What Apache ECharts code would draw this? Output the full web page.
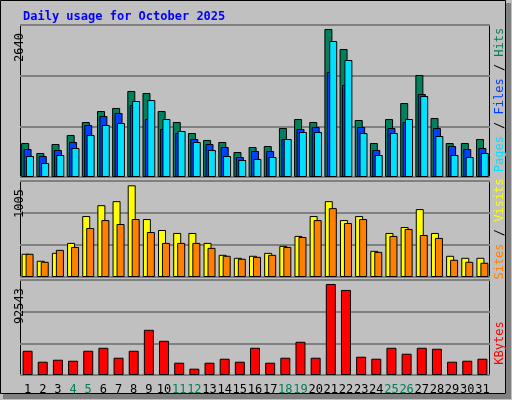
<!DOCTYPE html>
<html><head><meta charset="utf-8">
<script src="https://cdn.jsdelivr.net/npm/echarts@6/dist/echarts.min.js"></script>
<style>html,body{margin:0;padding:0;background:#c0c0c0}#c{width:512px;height:400px}</style>
</head><body><div id="c"></div>
<script>
const days = Array.from({length: 31}, (_, i) => String(i + 1));
const weekend = ['4','5','11','12','18','19','25','26'];

const hits  = [590,417,573,730,955,1146,1199,1494,1459,1146,955,764,643,608,434,521,538,851,1007,955,2571,2223,990,590,1007,1285,1772,1025,590,590,660];
const files = [486,365,469,608,903,1060,1112,1250,1007,834,764,660,573,521,347,452,452,660,834,869,1824,1598,869,469,851,955,1442,851,538,486,504];
const pages = [365,243,382,504,730,903,938,1320,1337,1007,799,608,469,365,295,313,347,660,782,782,2362,2032,764,382,764,1007,1407,712,382,347,417];

const visits = [243,170,253,357,638,752,794,960,607,492,461,461,357,232,201,222,253,326,430,638,794,596,638,274,461,523,711,461,222,201,201];
const sites  = [243,159,284,315,513,596,555,607,471,357,357,357,305,222,191,211,232,315,419,596,721,565,607,263,430,503,440,409,180,159,149];

const kbytes = [23620,12940,14880,13910,23620,26530,16830,23620,44010,33330,11970,6150,11970,15860,12940,26530,11970,16830,32360,16830,88670,82840,17800,15860,26530,20710,26530,25560,12940,13910,15860];

const maxTop = 2640, maxMid = 1005, maxBot = 92543;

const chart = echarts.init(document.getElementById('c'));
const font = 'DejaVu Sans Mono';
const grids = [
  { left: 20, right: 22, top: 25, height: 152 },
  { left: 20, right: 22, top: 181, height: 96 },
  { left: 20, right: 22, top: 280, height: 95 }
];
const xAxis = grids.map((g, i) => ({
  type: 'category', gridIndex: i, data: days,
  axisLine: { show: false }, axisTick: { show: false },
  axisLabel: i === 2 ? {
    interval: 0, margin: 9, fontFamily: font, fontSize: 12,
    color: v => weekend.includes(v) ? '#00805c' : '#000'
  } : { show: false }
}));
const yAxis = [maxTop, maxMid, maxBot].map((m, i) => ({
  type: 'value', gridIndex: i, min: 0, max: m, interval: m / 3,
  name: String(m), nameLocation: 'end', nameRotate: 90, nameGap: -8,
  nameTextStyle: { fontFamily: font, fontSize: 12, color: '#000', align: 'right', padding: [0, 0, 4, 0] },
  axisLabel: { show: false }, axisTick: { show: false }, axisLine: { show: false },
  splitLine: { lineStyle: { color: '#808080', width: 2 } }
}));
const bar = (name, data, color, idx, w, gap) => ({
  name, type: 'bar', data, xAxisIndex: idx, yAxisIndex: idx,
  barWidth: w, barGap: gap,
  itemStyle: { color, borderColor: '#000', borderWidth: 1 }, animation: false
});

const leg = (x, y, parts) => ({
  type: 'text', x, y, rotation: Math.PI / 2,
  style: {
    text: parts.map(p => `{${p[1]}|${p[0]}}`).join(''),
    rich: Object.fromEntries(parts.map(p => [p[1], { fill: p[2], fontFamily: font, fontSize: 12 }])),
    align: 'center', verticalAlign: 'middle'
  }
});

chart.setOption({
  backgroundColor: '#c0c0c0',
  animation: false,
  title: { text: 'Daily usage for October 2025', left: 18, top: 6,
    textStyle: { fontFamily: font, fontSize: 12, fontWeight: 'bold', color: '#0000ff' } },
  grid: grids,
  xAxis, yAxis,
  series: [
    bar('Hits', hits, '#00805c', 0, 8, '-70%'),
    bar('Files', files, '#0040ff', 0, 8, '-70%'),
    bar('Pages', pages, '#00e0ff', 0, 8, '-70%'),
    bar('Visits', visits, '#ffff00', 1, 8, '-50%'),
    bar('Sites', sites, '#ff8000', 1, 8, '-50%'),
    bar('KBytes', kbytes, '#ff0000', 2, 10, '0%')
  ],
  graphic: [
    { type: 'rect', shape: { x: 0.5, y: 0.5, width: 505, height: 393 }, style: { fill: 'none', stroke: '#000', lineWidth: 1 } },
    { type: 'rect', shape: { x: 506, y: 3, width: 5, height: 396 }, style: { fill: '#808080' } },
    { type: 'rect', shape: { x: 3, y: 394, width: 508, height: 5 }, style: { fill: '#808080' } },
    ...grids.map(g => ({ type: 'rect', shape: { x: 20.5, y: g.top - 0.5, width: 469, height: g.height + 1 },
      style: { fill: 'none', stroke: '#000', lineWidth: 1 } })),
    leg(500, 100, [['Pages','p','#00e0ff'],[' / ','s','#000'],['Files','f','#0040ff'],[' / ','s','#000'],['Hits','h','#00805c']]),
    leg(500, 229, [['Sites','a','#ff8000'],[' / ','s','#000'],['Visits','v','#ffff00']]),
    leg(500, 343, [['KBytes','k','#ff0000']])
  ]
});
</script></body></html>
